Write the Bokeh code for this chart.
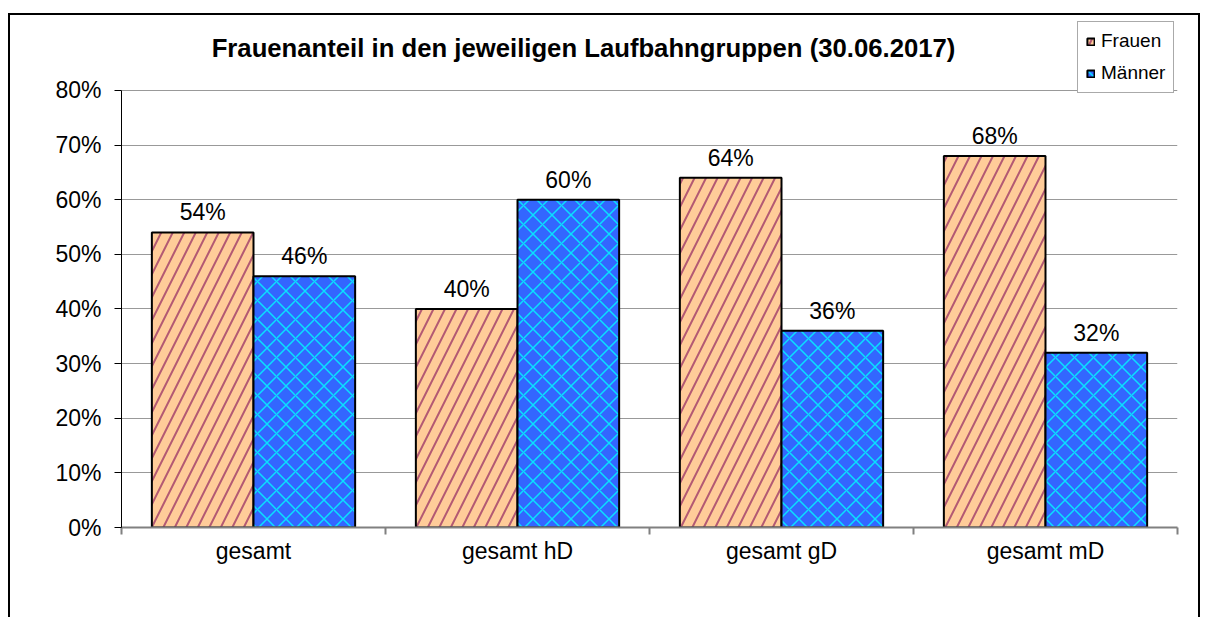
from bokeh.plotting import figure
from bokeh.models import (ColumnDataSource, FixedTicker, NumeralTickFormatter, Range1d,
                          Legend, LegendItem, Label)
from bokeh.core.properties import value
from bokeh.embed import file_html
from bokeh.resources import INLINE

categories = ["gesamt", "gesamt hD", "gesamt gD", "gesamt mD"]
frauen = [0.54, 0.40, 0.64, 0.68]
maenner = [0.46, 0.60, 0.36, 0.32]
y_ticks = [0.0, 0.1, 0.2, 0.3, 0.4, 0.5, 0.6, 0.7, 0.8]
title = "Frauenanteil in den jeweiligen Laufbahngruppen (30.06.2017)"

FONT = "Liberation Sans"
BW = 0.385
Y_MAX = 0.8
Y_TOP = 0.928   # extra room above the 80% line for title and legend

centers = [i + 0.5 for i in range(len(categories))]
src_f = ColumnDataSource(dict(x=[c - BW / 2 for c in centers], top=frauen,
                              lab=[f"{round(v*100)}%" for v in frauen]))
src_m = ColumnDataSource(dict(x=[c + BW / 2 for c in centers], top=maenner,
                              lab=[f"{round(v*100)}%" for v in maenner]))

p = figure(width=1192, height=604, output_backend="svg", toolbar_location=None,
           x_range=Range1d(0, len(categories)), y_range=Range1d(0, Y_TOP),
           min_border_left=111, min_border_right=25, min_border_top=5, min_border_bottom=92)
p.styles = {"border-top": "2px solid black", "border-left": "2px solid black",
            "border-right": "2px solid black", "margin-top": "13px", "margin-left": "8px"}
p.outline_line_color = None
p.background_fill_color = "white"
p.border_fill_color = "white"

rf = p.vbar(x="x", top="top", width=BW, source=src_f, fill_color="#FFCC99",
            line_color="black", line_width=2, hatch_pattern="/", hatch_color="#993366",
            hatch_alpha=0.75, hatch_scale=23, hatch_weight=2)
rm = p.vbar(x="x", top="top", width=BW, source=src_m, fill_color="#3366FF",
            line_color="black", line_width=2, hatch_pattern="x", hatch_color="#00FFFF",
            hatch_alpha=0.8, hatch_scale=19, hatch_weight=1.5)

for s in (src_f, src_m):
    p.text(x="x", y="top", text="lab", source=s, text_align="center",
           text_baseline="alphabetic", y_offset=-20, text_font=value(FONT),
           text_font_size="23px", text_color="black")

p.add_layout(Label(x=1.75, y=0.877, text=title, text_align="center",
                   text_baseline="middle", text_font=FONT, text_font_size="25.7px",
                   text_font_style="bold", text_color="black"))

# y axis
p.yaxis.ticker = FixedTicker(ticks=y_ticks)
p.yaxis.bounds = (0, Y_MAX)
p.yaxis.formatter = NumeralTickFormatter(format="0%")
p.yaxis.axis_line_color = "black"
p.yaxis.axis_line_width = 1
p.yaxis.major_tick_out = 7
p.yaxis.major_tick_in = 0
p.yaxis.minor_tick_line_color = None
p.yaxis.major_label_standoff = 13
p.yaxis.major_label_text_font = FONT
p.yaxis.major_label_text_font_size = "23px"
p.yaxis.major_label_text_color = "black"

# x axis
p.xaxis.ticker = FixedTicker(ticks=centers, minor_ticks=list(range(len(categories) + 1)))
p.xaxis.major_label_overrides = {c: n for c, n in zip(centers, categories)}
p.xaxis.major_tick_line_color = None
p.xaxis.minor_tick_out = 7
p.xaxis.minor_tick_in = 0
p.xaxis.minor_tick_line_color = "#808080"
p.xaxis.minor_tick_line_width = 2
p.xaxis.axis_line_color = "#808080"
p.xaxis.axis_line_width = 2
p.xaxis.major_label_standoff = 3
p.xaxis.major_label_text_font = FONT
p.xaxis.major_label_text_font_size = "23px"
p.xaxis.major_label_text_color = "black"

p.xgrid.grid_line_color = None
p.ygrid.grid_line_color = "#999999"
p.ygrid.grid_line_width = 1

legend = Legend(items=[LegendItem(label="Frauen", renderers=[rf]),
                       LegendItem(label="Männer", renderers=[rm])],
                location=(956, 434), orientation="vertical")
legend.label_text_font = FONT
legend.label_text_font_size = "19px"
legend.label_text_color = "black"
legend.glyph_width = 9
legend.glyph_height = 9
legend.label_height = 20
legend.label_standoff = 6
legend.spacing = 10
legend.padding = 8
legend.margin = 0
legend.border_line_color = "#555555"
legend.border_line_width = 1
legend.background_fill_alpha = 1
p.add_layout(legend, "center")

open("out.html", "w").write(file_html(p, INLINE))
